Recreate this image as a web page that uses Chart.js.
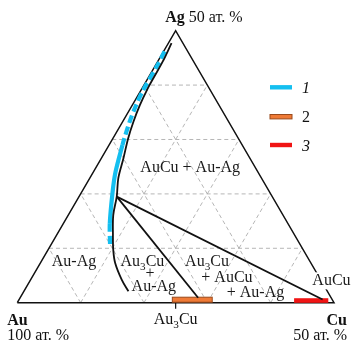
<!DOCTYPE html>
<html>
<head>
<meta charset="utf-8">
<script src="https://cdn.jsdelivr.net/npm/chart.js"></script>
<style>
  html, body { margin: 0; padding: 0; background: #fff; }
</style>
</head>
<body>
<canvas id="ternary" width="353" height="342"></canvas>
<script>
// all values in at.% (Au = 100 - Cu - Ag)
// boundary of the Au-Ag solid solution
const solvusCu = [0.5, 0.8, 0.85, 0.9, 1.2, 1.7, 2.4, 3.5, 4.5, 5.95, 7.1, 8.9, 10.3, 11.8, 14.4, 16.5];
const solvusAg = [47.7, 44.3, 41.3, 39.4, 36.3, 33.3, 30.2, 26.5, 22.9, 19.5, 16.1, 12.4, 9.7, 7.3, 4.2, 2.1];

// series 1 - measured Au-Ag compositions
const series1Cu = [0.15, 0.3, 0.35, 0.6, 1.1, 1.8, 2.1, 3.5, 4.85, 7.35, 9.45];
const series1Ag = [46.2, 43.7, 38.8, 36.3, 33.3, 30.2, 29.0, 24.0, 20.4, 14.5, 10.4];

// tie lines from the three-phase corner
const junctionCu = 5.95, junctionAg = 19.5;
const tieEndCu = [28.1, 47.9];
const tieEndAg = [0.9, 0.6];

// series 2 (Au3Cu) and 3 (AuCu) ranges along the Au-Cu side
const series2Cu = [24.2, 30.5], series2Ag = 0.55;
const series3Cu = [43.5, 48.9], series3Ag = 0.4;

const gridSteps = [10, 20, 30, 40];

const regionText = ['AuCu + Au-Ag', 'Au-Ag', 'Au_3Cu', '+', 'Au-Ag', 'Au_3Cu', '+ AuCu', '+ Au-Ag', 'AuCu'];
const regionCu = [14.8, 5.1, 15.9, 18.2, 20.0, 26.1, 30.7, 36.6, 47.5];
const regionAg = [25.0, 7.7, 7.7, 5.5, 3.1, 7.7, 4.8, 2.0, 4.2];

const legendText = ['1', '2', '3'];

const cyan = '#14bff0', orange = '#ef7a36', orangeEdge = '#9a4a1c', red = '#f01414';
const serif = "'Liberation Serif', 'Times New Roman', serif";

const toXY = (cu, ag) => ({ x: cu + ag / 2, y: ag });
const pts = (cu, ag) => cu.map((c, i) => toXY(c, ag[i]));

const line = (data, color, width, extra) => Object.assign({
  data: data, showLine: true, fill: false, pointRadius: 0,
  borderColor: color, borderWidth: width
}, extra || {});

const datasets = [];
gridSteps.forEach(k => {
  datasets.push(line([toXY(0, k), toXY(50 - k, k)], '#a3a3a3', 0.8, { borderDash: [4, 3], order: 5 }));
  datasets.push(line([toXY(k, 0), toXY(k, 50 - k)], '#a3a3a3', 0.8, { borderDash: [4, 3], order: 5 }));
  datasets.push(line([toXY(k, 0), toXY(0, k)], '#a3a3a3', 0.8, { borderDash: [4, 3], order: 5 }));
});
datasets.push(line([toXY(0, 0), toXY(50, 0), toXY(0, 50), toXY(0, 0)], '#111', 1.5, { order: 4, label: 'edges' }));
datasets.push(line([{ x: 25, y: 0 }, { x: 25, y: -1.1 }], '#111', 1.2, { order: 4 }));
datasets.push(line(pts(series1Cu, series1Ag), cyan, 4.2, {
  order: 2, tension: 0.3,
  segment: { borderDash: c => (c.p0DataIndex < 6 || c.p0DataIndex >= 9) ? [8, 4] : undefined }
}));
datasets.push(line(pts(solvusCu, solvusAg), '#111', 1.8, { order: 1, tension: 0.35 }));
tieEndCu.forEach((c, i) => {
  datasets.push(line([toXY(junctionCu, junctionAg), toXY(c, tieEndAg[i])], '#111', 1.8, { order: 1 }));
});

function drawRich(ctx, text, x, y, align, opts) {
  opts = opts || {};
  const size = opts.size || 16;
  const parts = text.split(/_(\d)/).map((t, i) => ({ t: t, s: i % 2 === 1 }));
  const fonts = parts.map(p => (opts.bold ? 'bold ' : '') + (opts.italic ? 'italic ' : '') + (p.s ? size * 0.7 : size) + 'px ' + serif);
  let w = 0;
  const ws = parts.map((p, k) => { ctx.font = fonts[k]; const m = ctx.measureText(p.t).width; w += m; return m; });
  let cx = align === 'center' ? x - w / 2 : align === 'right' ? x - w : x;
  ctx.textAlign = 'left';
  ctx.textBaseline = 'alphabetic';
  parts.forEach((p, k) => { ctx.font = fonts[k]; ctx.fillText(p.t, cx, y + (p.s ? 3.5 : 0)); cx += ws[k]; });
  return w;
}

const ternaryPlugin = {
  id: 'ternary',
  afterDatasetDraw(chart, args) {
    if (chart.data.datasets[args.index].label !== 'edges') return;
    const ctx = chart.ctx, xs = chart.scales.x, ys = chart.scales.y;
    ctx.save();
    // Au3Cu range
    let x1 = xs.getPixelForValue(toXY(series2Cu[0], series2Ag).x);
    let x2 = xs.getPixelForValue(toXY(series2Cu[1], series2Ag).x);
    let yc = ys.getPixelForValue(series2Ag);
    ctx.fillStyle = orange; ctx.strokeStyle = orangeEdge; ctx.lineWidth = 1;
    ctx.fillRect(x1, yc - 2.5, x2 - x1, 5);
    ctx.strokeRect(x1, yc - 2.5, x2 - x1, 5);
    // AuCu range
    x1 = xs.getPixelForValue(toXY(series3Cu[0], series3Ag).x);
    x2 = xs.getPixelForValue(toXY(series3Cu[1], series3Ag).x);
    yc = ys.getPixelForValue(series3Ag);
    ctx.fillStyle = red;
    ctx.fillRect(x1, yc - 2.3, x2 - x1, 4.6);
    ctx.restore();
  },
  afterDatasetsDraw(chart) {
    const ctx = chart.ctx, xs = chart.scales.x, ys = chart.scales.y;
    const px = (cu, ag) => xs.getPixelForValue(toXY(cu, ag).x);
    const py = ag => ys.getPixelForValue(ag);
    ctx.save();
    regionText.forEach((t, i) => {
      const x = px(regionCu[i], regionAg[i]), y = py(regionAg[i]) + 5.5;
      if (i === regionText.length - 1) {
        ctx.font = '16px ' + serif;
        const w = ctx.measureText(t).width;
        ctx.fillStyle = '#fff';
        ctx.fillRect(x - w / 2 - 1, y - 13, w + 2, 17);
      }
      ctx.fillStyle = '#1a1a1a';
      drawRich(ctx, t, x, y, 'center');
    });

    // corner labels
    ctx.fillStyle = '#111';
    const apexX = px(0, 50), apexY = py(50);
    let w = drawRich(ctx, 'Ag', apexX - 10.5, apexY - 8.5, 'left', { bold: true });
    drawRich(ctx, ' 50 ат. %', apexX - 10.5 + w, apexY - 8.5, 'left');
    const auX = px(0, 0), baseY = py(0);
    drawRich(ctx, 'Au', auX - 10, baseY + 22.5, 'left', { bold: true });
    drawRich(ctx, '100 ат. %', auX - 10, baseY + 37.5, 'left');
    const cuX = px(50, 0);
    drawRich(ctx, 'Cu', cuX + 13, baseY + 22.5, 'right', { bold: true });
    drawRich(ctx, '50 ат. %', cuX + 13, baseY + 37.5, 'right');
    drawRich(ctx, 'Au_3Cu', px(25, 0), baseY + 21.5, 'center');

    // legend
    const lx = 270, lw = 22, ly = [87.3, 116.7, 145];
    ctx.fillStyle = cyan; ctx.fillRect(lx, ly[0] - 2.2, lw, 4.4);
    ctx.fillStyle = orange; ctx.strokeStyle = orangeEdge; ctx.lineWidth = 1;
    ctx.fillRect(lx, ly[1] - 2.2, lw, 4.4); ctx.strokeRect(lx, ly[1] - 2.2, lw, 4.4);
    ctx.fillStyle = red; ctx.fillRect(lx, ly[2] - 2.2, lw, 4.4);
    ctx.fillStyle = '#111';
    legendText.forEach((t, i) => drawRich(ctx, t, 302, ly[i] + 5.5, 'left', { italic: i !== 1 }));
    ctx.restore();
  }
};

new Chart(document.getElementById('ternary'), {
  type: 'scatter',
  data: { datasets: datasets },
  options: {
    responsive: false,
    animation: false,
    devicePixelRatio: 1,
    layout: { padding: 0 },
    plugins: { legend: { display: false }, tooltip: { enabled: false } },
    scales: {
      x: { type: 'linear', min: -2.731, max: 53.0, display: false },
      y: { type: 'linear', min: -7.224, max: 55.64, display: false }
    }
  },
  plugins: [ternaryPlugin]
});
</script>
</body>
</html>
